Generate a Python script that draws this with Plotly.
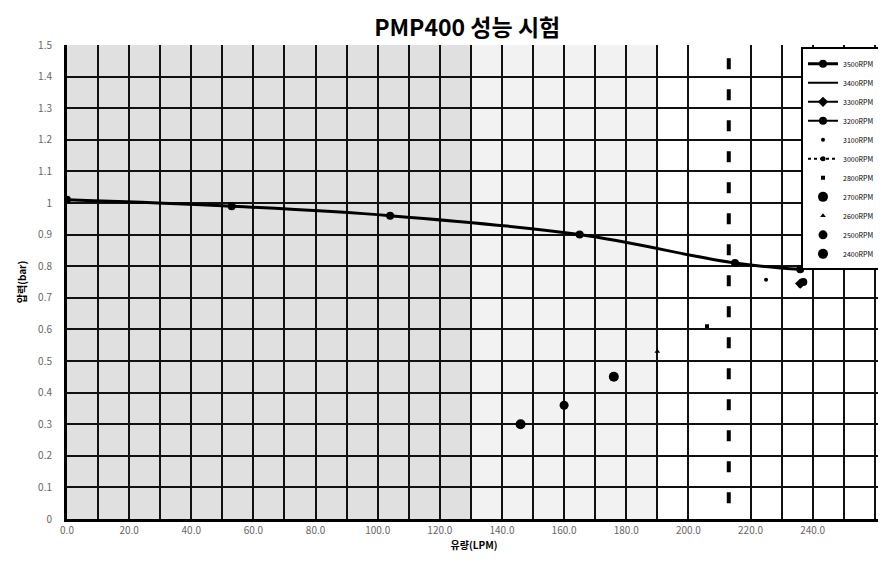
import plotly.graph_objects as go

# ---- data ----
main_flow = [0, 53, 104, 165, 215, 236]
main_pressure = [1.01, 0.99, 0.96, 0.90, 0.81, 0.79]

series_names = ["3500RPM", "3400RPM", "3300RPM", "3200RPM", "3100RPM", "3000RPM",
                "2900RPM", "2800RPM", "2700RPM", "2600RPM", "2500RPM", "2400RPM"]
series_flow = [None, [236], [236], [237], [225], [236], [], [206], [176], [190], [160], [146]]
series_pressure = [None, [0.755], [0.745], [0.75], [0.757], [0.74], [], [0.61], [0.45], [0.53], [0.36], [0.30]]

ref_flow = 213

x_tick_vals = [v for v in range(0, 261, 10) if v != 210]
x_tick_text = [f"{v:.1f}" if (v % 20 == 0 and v <= 240) else "" for v in x_tick_vals]
y_tick_vals = [round(i * 0.1, 1) for i in range(16)]
y_tick_text = ["0", "0.1", "0.2", "0.3", "0.4", "0.5", "0.6", "0.7", "0.8", "0.9",
               "1", "1.1", "1.2", "1.3", "1.4", "1.5"]

# ---- styles ----
modes = ["lines+markers", "lines", "lines+markers", "lines+markers", "markers", "lines+markers",
         "lines", "markers", "markers", "markers", "markers", "markers"]
symbols = ["circle", "circle", "diamond", "circle", "circle", "circle", "circle",
           "square", "circle", "triangle-up", "circle", "circle"]
sizes = [8, 6, 8, 8, 4, 5, 4, 4, 10, 5, 9, 10]
dashes = ["solid", "solid", "solid", "solid", "solid", "dot", "solid", "solid", "solid", "solid", "solid", "solid"]

fig = go.Figure()

for i, name in enumerate(series_names):
    if i == 0:
        xs, ys = main_flow, main_pressure
    else:
        xs, ys = series_flow[i], series_pressure[i]
    fig.add_trace(go.Scatter(
        x=xs, y=ys, name=name, mode=modes[i],
        line=dict(color="black", width=3 if i == 0 else 2, dash=dashes[i],
                  shape="spline" if i == 0 else "linear"),
        marker=dict(color="black", size=sizes[i], symbol=symbols[i]),
    ))

# scan-like shading on the left part of the plot
fig.add_shape(type="rect", xref="x", yref="y", x0=0, x1=130, y0=0, y1=1.5,
              fillcolor="#e0e0e0", line_width=0, layer="below")
fig.add_shape(type="rect", xref="x", yref="y", x0=130, x1=190, y0=0, y1=1.5,
              fillcolor="#f2f2f2", line_width=0, layer="below")

# dashed reference line
fig.add_shape(type="line", xref="x", yref="y", x0=ref_flow, x1=ref_flow, y0=0.05, y1=1.48,
              line=dict(color="black", width=4, dash="11px,20px"))

# page body has an 8px margin, so the figure is sized to fit the 886x568 window
fig.update_layout(
    width=878, height=560,
    margin=dict(l=59, r=5, t=37, b=49),
    paper_bgcolor="white", plot_bgcolor="white",
    font=dict(family="Noto Sans CJK KR, DejaVu Sans, sans-serif", color="#333"),
    title=dict(text="<b>PMP400 성능 시험</b>", x=0.523, xanchor="center", y=0.965, yanchor="middle",
               font=dict(size=23, color="black", family="Noto Sans CJK KR, sans-serif")),
    showlegend=True,
    legend=dict(x=1.0, xanchor="right", y=0.995, yanchor="top",
                bgcolor="white", bordercolor="black", borderwidth=2,
                font=dict(size=7, color="black"), tracegroupgap=0,
                itemwidth=30),
    xaxis=dict(range=[0, 262], tickvals=x_tick_vals, ticktext=x_tick_text, automargin=False,
               showgrid=True, gridcolor="#111", gridwidth=2, zeroline=False,
               showline=True, linecolor="black", linewidth=3,
               ticks="", tickfont=dict(size=10, color="#666"),
               title=dict(text="<b>유량(LPM)</b>", standoff=4,
                          font=dict(size=10, color="black"))),
    yaxis=dict(range=[0, 1.5], tickvals=y_tick_vals, ticktext=y_tick_text, automargin=False,
               showgrid=True, gridcolor="#111", gridwidth=2, zeroline=False,
               showline=True, linecolor="black", linewidth=3,
               ticks="", tickfont=dict(size=10, color="#666"), ticklabelstandoff=10,
               title=dict(text="<b>압력(bar)</b>", standoff=10,
                          font=dict(size=10, color="black"))),
)

fig.write_html("out.html")
